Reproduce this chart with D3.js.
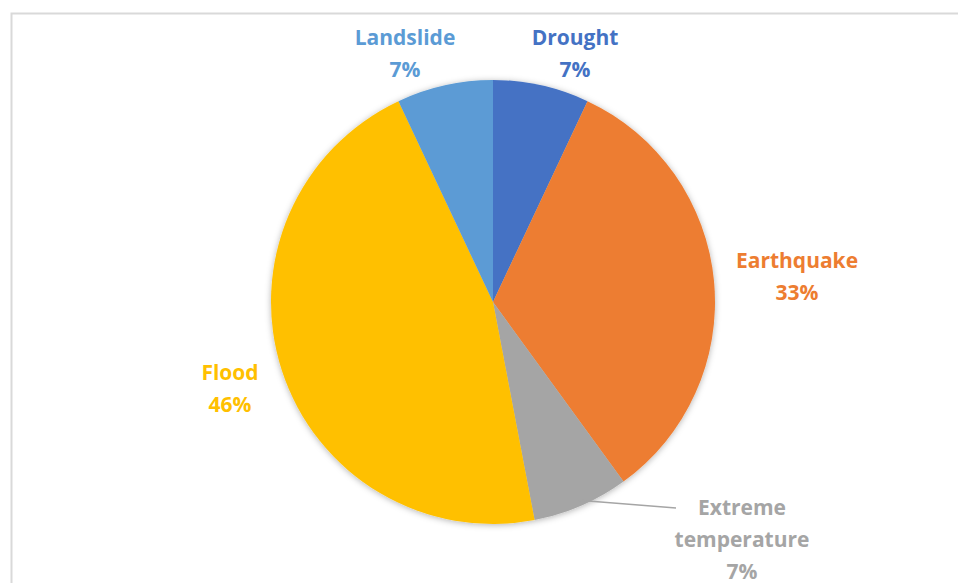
<!DOCTYPE html>
<html>
<head>
<meta charset="utf-8">
<script src="https://cdn.jsdelivr.net/npm/d3@7"></script>
<style>
  body { margin: 0; background: #fff; }
  text { font-family: "Open Sans", Lato, sans-serif; font-weight: bold; }
</style>
</head>
<body>
<div id="chart"></div>
<script>
// data, clockwise from 12 o'clock
const categories = ['Drought', 'Earthquake', 'Extreme temperature', 'Flood', 'Landslide'];
const shares = [7, 33, 7, 46, 7];
const colors = ['#4472C4', '#ED7D31', '#A5A5A5', '#FFC000', '#5B9BD5'];
// label lines (text broken where the picture breaks it)
const labelLines = [['Drought'], ['Earthquake'], ['Extreme', 'temperature'], ['Flood'], ['Landslide']];
// label centres relative to pie centre
const labelPos = [[82, -257], [304, -34], [249, 213], [-263, 78], [-88, -257]];

const width = 958, height = 583;
const cx = 493, cy = 302, radius = 222;

const svg = d3.select('#chart').append('svg')
  .attr('width', width)
  .attr('height', height);

// chart area frame (only top and left edges show)
svg.append('path')
  .attr('d', `M11.5,${height} V13.5 H${width}`)
  .attr('fill', 'none')
  .attr('stroke', '#d9d9d9')
  .attr('stroke-width', 2);

const defs = svg.append('defs');
const f = defs.append('filter').attr('id', 'shadow')
  .attr('x', '-10%').attr('y', '-10%').attr('width', '120%').attr('height', '120%');
f.append('feDropShadow')
  .attr('dx', 0).attr('dy', 1).attr('stdDeviation', 3)
  .attr('flood-color', '#000').attr('flood-opacity', 0.3);

const g = svg.append('g').attr('transform', `translate(${cx},${cy})`);

const pie = d3.pie().sort(null).value(d => d);
const arcs = pie(shares);
const arc = d3.arc().innerRadius(0).outerRadius(radius);

g.append('g').attr('filter', 'url(#shadow)')
  .selectAll('path')
  .data(arcs)
  .enter()
  .append('path')
  .attr('d', arc)
  .attr('fill', (d, i) => colors[i]);

// leader line for the extreme temperature slice
const et = arcs[2];
const mid = (et.startAngle + et.endAngle) / 2;
const p0 = [Math.sin(mid) * (radius - 6), -Math.cos(mid) * (radius - 6)];
g.append('polyline')
  .attr('points', `${p0[0]},${p0[1]} ${labelPos[2][0] - 66},${labelPos[2][1] - 7}`)
  .attr('fill', 'none')
  .attr('stroke', '#A5A5A5')
  .attr('stroke-width', 1.5);

const fontSize = 21, lineH = 32;
arcs.forEach((d, i) => {
  const lines = labelLines[i].concat([shares[i] + '%']);
  const t = g.append('text')
    .attr('text-anchor', 'middle')
    .attr('fill', colors[i])
    .attr('font-size', fontSize);
  lines.forEach((s, j) => {
    t.append('tspan')
      .attr('x', labelPos[i][0])
      .attr('y', labelPos[i][1] + j * lineH)
      .text(s);
  });
});
</script>
</body>
</html>
